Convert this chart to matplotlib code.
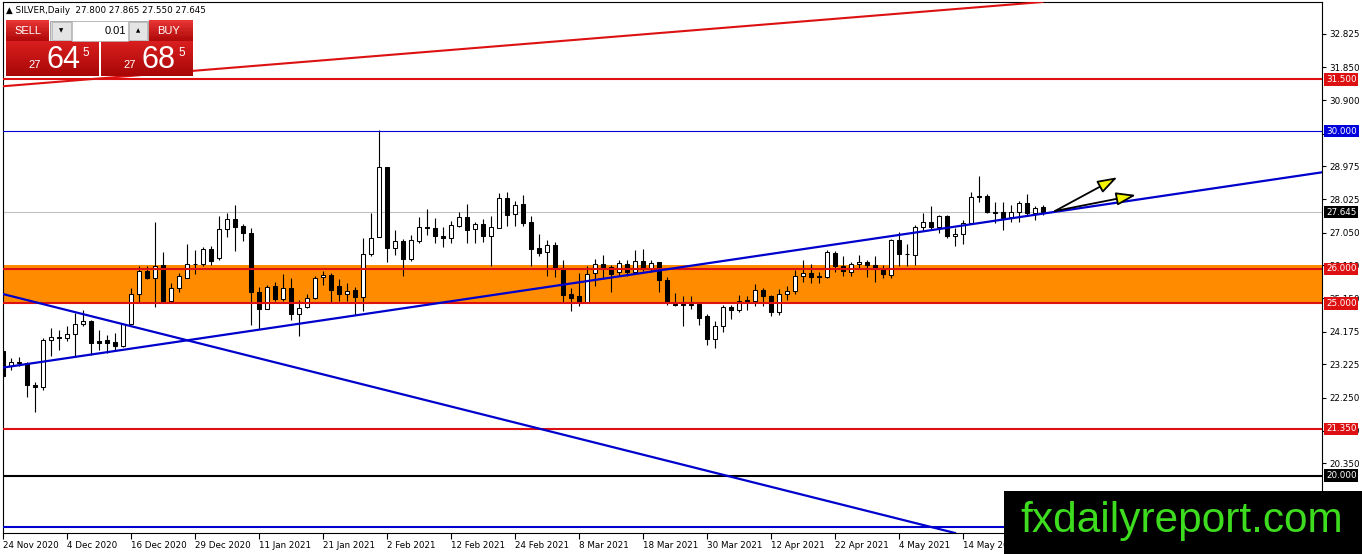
import matplotlib
matplotlib.use('Agg')
import matplotlib.pyplot as plt
import numpy as np
from matplotlib.patches import Rectangle, FancyArrowPatch
from matplotlib.colors import to_rgb

# daily bars, 24 Nov 2020 .. 28 May 2021 (bar index = position on chart)
opens = [23.60, 23.19, 23.30, 23.27, 22.64, 22.56, 23.92, 24.02, 23.99, 24.11,
         24.39, 24.48, 23.91, 23.94, 23.87, 23.75, 24.41, 25.28, 25.95, 25.73,
         26.12, 25.08, 25.44, 25.73, 26.13, 26.14, 26.58, 26.31, 27.16, 27.45,
         27.25, 27.05, 25.34, 24.83, 25.49, 25.13, 25.44, 24.70, 24.89, 25.15,
         25.76, 25.83, 25.49, 25.27, 25.39, 25.17, 26.43, 26.92, 28.95, 26.60,
         26.81, 26.28, 26.82, 27.21, 27.18, 26.96, 26.89, 27.23, 27.50, 27.15,
         27.31, 26.94, 27.18, 28.05, 27.59, 27.89, 27.35, 26.60, 26.48, 26.69,
         26.01, 25.28, 25.20, 25.03, 25.88, 26.14, 26.05, 25.90, 26.14, 25.90,
         26.23, 26.00, 26.19, 25.67, 24.97, 24.97, 24.97, 24.98, 24.62, 23.97,
         24.35, 24.90, 24.80, 25.09, 25.07, 25.39, 25.22, 24.74, 25.27, 25.36,
         25.78, 25.88, 25.79, 25.76, 26.47, 26.09, 25.90, 26.14, 26.19, 26.12,
         26.00, 25.83, 26.84, 26.43, 26.41, 27.20, 27.35, 27.21, 27.54, 26.94,
         27.00, 27.32, 28.10, 28.10, 27.65, 27.66, 27.50, 27.66, 27.90, 27.61,
         27.80]
highs = [23.65, 23.41, 23.44, 23.30, 22.70, 23.99, 24.28, 24.23, 24.33, 24.72,
         24.81, 24.52, 24.23, 24.09, 24.15, 24.43, 25.44, 26.07, 26.09, 27.37,
         26.50, 25.58, 25.87, 26.72, 26.55, 26.62, 26.65, 27.52, 27.63, 27.86,
         27.30, 27.18, 25.47, 25.54, 25.63, 25.86, 25.73, 25.10, 25.28, 25.80,
         25.95, 25.89, 25.70, 25.58, 25.47, 26.89, 27.63, 30.02, 28.95, 27.13,
         26.87, 26.99, 27.50, 27.73, 27.47, 27.21, 27.40, 27.64, 27.89, 27.37,
         27.44, 27.52, 28.21, 28.24, 27.97, 28.15, 27.52, 27.02, 26.84, 26.78,
         26.26, 25.44, 25.88, 26.07, 26.28, 26.41, 26.12, 26.26, 26.26, 26.55,
         26.58, 26.26, 26.21, 25.75, 25.30, 25.20, 25.20, 25.05, 24.70, 24.49,
         24.94, 24.96, 25.25, 25.22, 25.57, 25.44, 25.25, 25.42, 25.49, 25.97,
         26.26, 26.14, 25.92, 26.55, 26.52, 26.36, 26.21, 26.41, 26.26, 26.36,
         26.12, 26.87, 27.08, 26.72, 27.26, 27.61, 27.81, 27.57, 27.57, 27.18,
         27.42, 28.24, 28.68, 28.16, 27.93, 27.95, 27.84, 27.97, 28.16, 27.81,
         27.865]
lows = [22.83, 23.05, 23.17, 22.28, 21.85, 22.49, 23.48, 23.65, 23.89, 23.46,
        24.35, 23.51, 23.65, 23.56, 23.60, 23.73, 24.41, 25.05, 25.70, 24.89,
        25.05, 25.05, 25.34, 25.73, 25.86, 26.07, 26.12, 26.26, 26.92, 26.52,
        26.82, 24.38, 24.26, 24.83, 25.08, 25.08, 24.50, 24.04, 24.86, 25.12,
        25.54, 25.02, 25.08, 25.08, 24.66, 24.78, 26.36, 26.92, 26.21, 26.41,
        25.80, 26.24, 26.76, 26.99, 26.74, 26.63, 26.76, 27.21, 26.76, 26.76,
        26.79, 26.07, 27.18, 27.23, 27.25, 27.23, 26.09, 26.36, 25.78, 25.76,
        25.03, 24.78, 24.91, 25.03, 25.49, 25.70, 25.34, 25.83, 25.78, 25.85,
        25.94, 25.90, 25.34, 24.96, 24.93, 24.33, 24.84, 24.38, 23.78, 23.70,
        24.18, 24.54, 24.76, 24.80, 24.93, 24.93, 24.62, 24.65, 25.10, 25.27,
        25.63, 25.59, 25.60, 25.73, 25.90, 25.78, 25.78, 26.02, 25.75, 25.63,
        25.73, 25.73, 26.07, 26.07, 26.10, 27.13, 27.13, 27.03, 26.89, 26.65,
        26.72, 27.29, 27.93, 27.61, 27.32, 27.13, 27.37, 27.37, 27.57, 27.42,
        27.55]
closes = [22.88, 23.29, 23.26, 22.63, 22.57, 23.94, 24.02, 23.99, 24.11, 24.41,
          24.48, 23.86, 23.86, 23.84, 23.75, 24.41, 25.28, 25.95, 25.73, 26.07,
          25.08, 25.44, 25.78, 26.14, 26.15, 26.58, 26.24, 27.16, 27.45, 27.21,
          27.05, 25.34, 24.83, 25.47, 25.13, 25.44, 24.70, 24.86, 25.15, 25.73,
          25.83, 25.39, 25.27, 25.37, 25.17, 26.43, 26.89, 28.95, 26.60, 26.81,
          26.28, 26.84, 27.21, 27.18, 26.96, 26.89, 27.27, 27.50, 27.13, 27.31,
          26.94, 27.21, 28.05, 27.55, 27.86, 27.32, 26.57, 26.47, 26.69, 26.01,
          25.25, 25.14, 25.04, 25.85, 26.14, 26.05, 25.85, 26.17, 25.90, 26.23,
          26.00, 26.17, 25.67, 25.03, 24.95, 24.95, 24.95, 24.57, 23.97, 24.35,
          24.90, 24.80, 25.08, 25.07, 25.39, 25.20, 24.74, 25.27, 25.36, 25.78,
          25.88, 25.75, 25.77, 26.48, 26.07, 25.94, 26.14, 26.19, 26.10, 26.00,
          25.85, 26.84, 26.43, 26.42, 27.21, 27.37, 27.21, 27.54, 26.94, 27.00,
          27.34, 28.08, 28.08, 27.64, 27.63, 27.47, 27.66, 27.90, 27.61, 27.76,
          27.645]

date_ticks = list(range(0, 121, 8))
date_labels = ['24 Nov 2020', '4 Dec 2020', '16 Dec 2020', '29 Dec 2020',
               '11 Jan 2021', '21 Jan 2021', '2 Feb 2021', '12 Feb 2021',
               '24 Feb 2021', '8 Mar 2021', '18 Mar 2021', '30 Mar 2021',
               '12 Apr 2021', '22 Apr 2021', '4 May 2021', '14 May 2021']
price_ticks = [20.350, 21.300, 22.250, 23.225, 24.175, 25.150, 26.100,
               27.050, 28.025, 28.975, 29.925, 30.900, 31.850, 32.825]

# drawn objects: levels, zone, trendlines (bar index, price), arrows
levels = [(31.5, '#dd1111', 1.5), (30.0, '#0000dd', 0.8), (26.0, '#dd1111', 1.5),
          (25.0, '#dd1111', 1.5), (21.35, '#dd1111', 1.5), (20.0, 'black', 1.5),
          (18.51, '#0000cc', 1.5)]
zone = (24.97, 26.11)
red_trend = [(-0.375, 31.292), (128.375, 33.716)]
blue_up = [(-0.375, 23.120), (164.875, 28.801)]
blue_down = [(-0.375, 25.289), (105.875, 19.096)]
arrow_tail = (131.5, 27.678)
arrow_tips = [(139.29, 28.656), (141.625, 28.142)]
bid = 27.645

W, H = 1362, 554
fig = plt.figure(figsize=(W / 100, H / 100), dpi=100)
fig.patch.set_facecolor('white')
ax = fig.add_axes([2.5 / W, (H - 533) / H, (1322 - 2.5) / W, (533 - 2) / H])
ax.set_xlim(-0.0625, 164.875)
ax.set_ylim(18.331, 33.745)

idx = np.arange(len(opens))
o = np.array(opens); c = np.array(closes)
hi = np.array(highs); lo = np.array(lows)

ax.axhspan(zone[0], zone[1], color='#ff8c00', lw=0, zorder=1)
ax.axhline(bid, color='#c0c0c0', lw=0.8, zorder=1.5)

ax.vlines(idx, lo, hi, color='black', lw=0.8, zorder=3)
up = c >= o
bottoms = np.minimum(o, c)
heights = np.maximum(np.abs(c - o), 0.012)
ax.bar(idx[up], heights[up], bottom=bottoms[up], width=0.62,
       facecolor='white', edgecolor='black', lw=0.75, zorder=3.5)
ax.bar(idx[~up], heights[~up], bottom=bottoms[~up], width=0.62,
       facecolor='black', edgecolor='black', lw=0.75, zorder=3.5)

for price, col, lw in levels:
    ax.axhline(price, color=col, lw=lw, zorder=4)

ax.axline(red_trend[0], red_trend[1], color='#dd1111', lw=1.5, zorder=4)
ax.axline(blue_up[0], blue_up[1], color='#0000cc', lw=1.6, zorder=4)
ax.axline(blue_down[0], blue_down[1], color='#0000cc', lw=1.6, zorder=4)

for tip in arrow_tips:
    ax.add_patch(FancyArrowPatch(arrow_tail, tip,
                                 arrowstyle='-|>,head_length=12,head_width=4',
                                 mutation_scale=1, fc='#f5f500', ec='black',
                                 lw=1.3, shrinkA=0, shrinkB=0, zorder=5))

# axes styling (MT4 look)
for s in ax.spines.values():
    s.set_color('black')
    s.set_linewidth(0.8)
ax.yaxis.tick_right()
ax.set_yticks(price_ticks)
ax.set_yticklabels(['%.3f' % v for v in price_ticks])
ax.set_xticks(date_ticks)
ax.set_xticklabels(date_labels)
for lbl in ax.get_xticklabels():
    lbl.set_ha('left')
ax.tick_params(axis='y', direction='out', length=3, width=0.8, pad=2,
               labelsize=6.3, right=True, left=False)
ax.tick_params(axis='x', direction='out', length=4, width=0.8, pad=1.5,
               labelsize=6.3)

# coloured price labels on the scale
tags = [(31.5, '#dd1111'), (30.0, '#0000dd'), (bid, 'black'), (26.0, '#dd1111'),
        (25.0, '#dd1111'), (21.35, '#dd1111'), (20.0, 'black')]
for price, col in tags:
    ax.text(1.0 + 4 / 1319.5, price, '%.3f' % price, transform=ax.get_yaxis_transform(),
            ha='left', va='center', fontsize=6.3, color='white', clip_on=False,
            bbox=dict(boxstyle='square,pad=0.2', fc=col, ec='none'), zorder=10)


def prect(x0, y0, x1, y1, **kw):
    fig.add_artist(Rectangle((x0 / W, 1 - y1 / H), (x1 - x0) / W, (y1 - y0) / H,
                             transform=fig.transFigure, **kw))


def grad_rect(x0, y0, x1, y1, top='#e83434', bottom='#b00a0a', z=11):
    # vertical red gradient like the MT4 one-click buttons
    n = int(y1 - y0)
    t, b = np.array(to_rgb(top)), np.array(to_rgb(bottom))
    for k in range(n):
        col = t + (b - t) * k / max(n - 1, 1)
        prect(x0, y0 + k, x1, y0 + k + 1.05, fc=col, ec='none', zorder=z)


def ptext(x, y, s, **kw):
    fig.text(x / W, 1 - y / H, s, **kw)


# header
ptext(6, 10.5, '\u25b2 SILVER,Daily  27.800 27.865 27.550 27.645', fontsize=6.3,
      va='center', ha='left', zorder=12)

# one-click trading panel
grad_rect(6, 20.5, 49, 41)
grad_rect(149, 20.5, 193, 41)
prect(50, 20.5, 148, 41, fc='#d8d8d8', ec='#a0a0a0', lw=0.6, zorder=11)
prect(52, 22, 71, 39.5, fc='#e4e4e4', ec='#b0b0b0', lw=0.5, zorder=11.5)
prect(72, 21, 128, 40.5, fc='white', ec='#b0b0b0', lw=0.5, zorder=11.5)
prect(129, 22, 147, 39.5, fc='#e4e4e4', ec='#b0b0b0', lw=0.5, zorder=11.5)
grad_rect(6, 41, 99, 76, top='#d81e1e', bottom='#a80606')
grad_rect(101, 41, 193, 76, top='#d81e1e', bottom='#a80606')
prect(10, 37.5, 46, 38.2, fc='#f08080', ec='none', zorder=11.6)
prect(153, 37.5, 190, 38.2, fc='#f08080', ec='none', zorder=11.6)

pf = 'Liberation Sans'
ptext(27.5, 31, 'SELL', fontsize=8, color='white', ha='center', va='center',
      family=pf, zorder=12)
ptext(169, 31, 'BUY', fontsize=8, color='white', ha='center', va='center',
      family=pf, zorder=12)
ptext(126, 31, '0.01', fontsize=8, color='black', ha='right', va='center',
      family=pf, zorder=12)
ptext(61.5, 31, '\u25bc', fontsize=4, color='black', ha='center', va='center', zorder=12)
ptext(138, 31, '\u25b2', fontsize=4, color='black', ha='center', va='center', zorder=12)
ptext(35, 68.5, '27', fontsize=8, color='white', ha='center', va='baseline',
      family=pf, zorder=12)
ptext(63.5, 68.5, '64', fontsize=22, color='white', ha='center', va='baseline',
      family=pf, zorder=12)
ptext(86, 47, '5', fontsize=8.5, color='white', ha='center', va='top',
      family=pf, zorder=12)
ptext(129.5, 68.5, '27', fontsize=8, color='white', ha='center', va='baseline',
      family=pf, zorder=12)
ptext(158.5, 68.5, '68', fontsize=22, color='white', ha='center', va='baseline',
      family=pf, zorder=12)
ptext(181.5, 47, '5', fontsize=8.5, color='white', ha='center', va='top',
      family=pf, zorder=12)

# watermark box
prect(1004, 491, W, H, fc='black', ec='none', zorder=20)
ptext(1181.5, 531.7, 'fxdailyreport.com', fontsize=30.5, color='#3ddc1e',
      ha='center', va='baseline', family=pf, zorder=21)

fig.savefig('out.png', dpi=100)
